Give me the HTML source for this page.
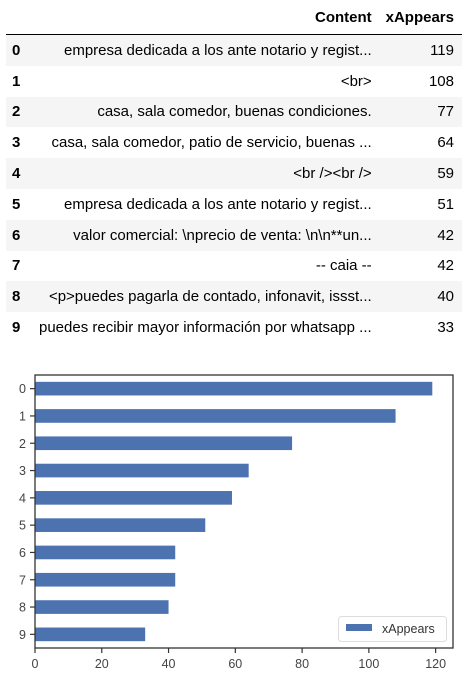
<!DOCTYPE html>
<html><head><meta charset="utf-8"><style>
body{margin:0;width:469px;height:686px;background:#fff;font-family:"Liberation Sans",Arial,sans-serif;overflow:hidden;position:relative}
table{position:absolute;left:6px;top:0;width:456px;border-collapse:collapse;font-size:15px;color:#000}
th{font-weight:bold;text-align:right;height:34px;padding:0 8px 0 0;border-bottom:1px solid #000;vertical-align:middle}
td{height:30.8px;text-align:right;padding:0 8px 0 0;white-space:nowrap}
td.i{font-weight:bold;text-align:left;padding-left:6px;width:22px}
tr.s td{background:#f5f5f5}
svg{position:absolute;left:0;top:0}
</style></head><body>
<table>
<thead><tr><th></th><th>Content</th><th style="width:76px">xAppears</th></tr></thead>
<tbody id="tb"></tbody></table>
<svg id="ch" width="469" height="686"></svg>
<script>
const labels=["0","1","2","3","4","5","6","7","8","9"];
const contents=["empresa dedicada a los ante notario y regist...","<br>","casa, sala comedor, buenas condiciones.","casa, sala comedor, patio de servicio, buenas ...","<br /><br />","empresa dedicada a los ante notario y regist...","valor comercial: \\nprecio de venta: \\n\\n**un...","-- caia --","<p>puedes pagarla de contado, infonavit, issst...","puedes recibir mayor información por whatsapp ..."];
const values=[119,108,77,64,59,51,42,42,40,33];
const xticks=[0,20,40,60,80,100,120];
const tb=document.getElementById('tb');
labels.forEach((l,i)=>{
  const tr=document.createElement('tr');
  
  
  if(i%2==0)tr.className='s';
  const a=document.createElement('td');a.className='i';a.textContent=l;
  const b=document.createElement('td');b.textContent=contents[i];
  const c=document.createElement('td');c.textContent=values[i];
  tr.append(a,b,c);tb.appendChild(tr);
});
const NS='http://www.w3.org/2000/svg',svg=document.getElementById('ch');
const L=35,R=453,T=375,B=648,xmax=125.2;
const X=v=>L+v/xmax*(R-L);
const band=(B-T)/labels.length;
const Y=i=>T+band*(i+0.5);
function el(t,a,p){const e=document.createElementNS(NS,t);for(const k in a)e.setAttribute(k,a[k]);(p||svg).appendChild(e);return e;}
values.forEach((v,i)=>{
  const r=el('rect',{x:X(0),y:Y(i)-band*0.25,width:X(v)-X(0),height:band*0.5,fill:'#4c72b0'});
  
  
  el('line',{x1:L-5,x2:L,y1:Y(i),y2:Y(i),stroke:'#333','stroke-width':1.2});
  const t=el('text',{x:L-9,y:Y(i)+4.5,'text-anchor':'end','font-size':12.5,fill:'#444'});t.textContent=labels[i];
  
  
});
xticks.forEach(v=>{
  el('line',{x1:X(v),x2:X(v),y1:B,y2:B+5,stroke:'#333','stroke-width':1.2});
  const t=el('text',{x:X(v),y:B+20,'text-anchor':'middle','font-size':12.5,fill:'#444'});t.textContent=v;
  
  
});
const f=el('rect',{x:L,y:T,width:R-L,height:B-T,fill:'none',stroke:'#333','stroke-width':1.3});


const g=el('g',{});


el('rect',{x:338.5,y:616.5,width:108,height:25,rx:3,fill:'#fff',stroke:'#ddd'},g);
el('rect',{x:346,y:624,width:26,height:7,fill:'#4c72b0'},g);
const lt=el('text',{x:382,y:633,'font-size':12.5,fill:'#333'},g);lt.textContent='xAppears';
</script>
</body></html>
